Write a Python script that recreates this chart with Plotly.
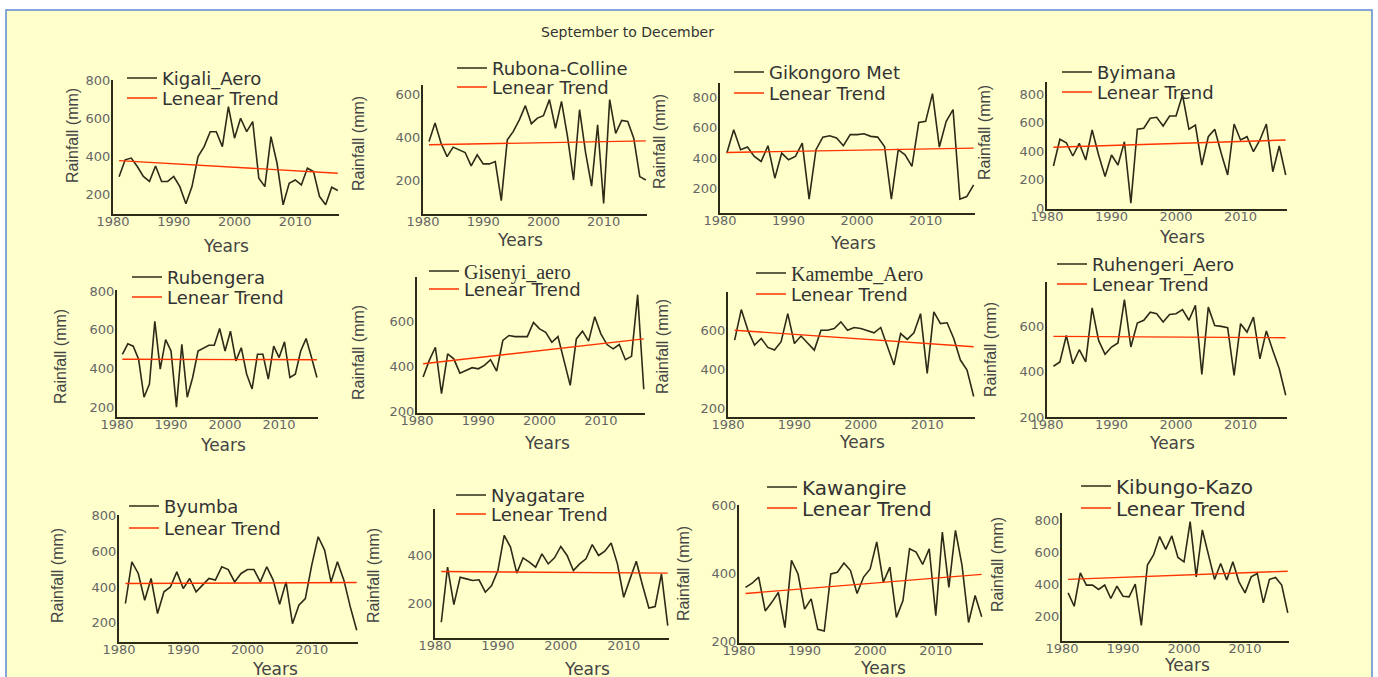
import plotly.graph_objects as go

# ---------------- data ----------------
years = list(range(1981, 2018))
stations = ["Kigali_Aero", "Rubona-Colline", "Gikongoro Met", "Byimana",
            "Rubengera", "Gisenyi_aero", "Kamembe_Aero", "Ruhengeri_Aero",
            "Byumba", "Nyagatare", "Kawangire", "Kibungo-Kazo"]

kigali = [295, 383, 392, 348, 296, 270, 351, 270, 270, 296, 243, 153, 243, 400, 452, 530, 530, 452, 661, 496,
          600, 530, 583, 287, 243, 504, 365, 148, 261, 278, 252, 339, 322, 191, 148, 240, 223]
rubona = [382, 468, 374, 312, 356, 343, 331, 269, 320, 278, 278, 289, 107, 390, 429, 483, 549, 465, 491, 502,
          577, 444, 569, 405, 203, 530, 330, 175, 460, 94, 577, 420, 480, 475, 398, 219, 203]
gikongoro = [434, 586, 456, 473, 412, 379, 482, 270, 434, 390, 412, 499, 133, 456, 538, 547, 532, 482, 554, 554,
             560, 543, 538, 477, 133, 456, 423, 347, 634, 641, 822, 473, 641, 717, 133, 150, 227]
byimana = [296, 483, 459, 366, 455, 338, 548, 373, 222, 373, 303, 466, 35, 553, 560, 630, 637, 576, 646, 646,
           793, 553, 583, 303, 501, 553, 385, 233, 590, 478, 501, 396, 478, 590, 256, 436, 233]
rubengera = [473, 527, 515, 447, 251, 319, 643, 396, 549, 490, 200, 524, 251, 353, 490, 507, 520, 520, 606, 490,
             592, 439, 507, 370, 294, 473, 473, 345, 515, 456, 537, 353, 370, 490, 554, 456, 353]
gisenyi = [354, 427, 485, 280, 456, 434, 371, 383, 395, 390, 405, 430, 380, 515, 537, 532, 532, 532, 595, 566,
           551, 507, 532, 420, 317, 522, 556, 512, 620, 544, 497, 478, 497, 430, 445, 717, 300]
kamembe = [548, 705, 599, 523, 557, 511, 497, 540, 684, 531, 569, 531, 497, 599, 599, 608, 642, 599, 613, 608,
           596, 586, 613, 514, 421, 582, 552, 586, 684, 378, 693, 633, 637, 557, 446, 395, 259]
ruhengeri = [424, 443, 560, 435, 497, 443, 682, 538, 477, 509, 527, 718, 509, 615, 627, 663, 656, 619, 653, 656,
             674, 627, 693, 388, 685, 604, 600, 594, 384, 612, 575, 641, 457, 580, 494, 413, 296]
byumba = [308, 540, 475, 326, 447, 252, 373, 400, 484, 391, 447, 373, 410, 447, 438, 512, 497, 428, 475, 497,
          497, 428, 512, 438, 304, 428, 196, 298, 335, 521, 679, 605, 428, 540, 438, 289, 159]
nyagatare = [120, 351, 194, 309, 302, 295, 298, 246, 274, 337, 484, 435, 326, 390, 372, 351, 407, 365, 390, 438,
             400, 337, 365, 386, 446, 400, 418, 452, 365, 225, 302, 376, 274, 180, 186, 323, 106]
kawangire = [359, 371, 389, 290, 315, 344, 241, 438, 398, 295, 325, 236, 231, 398, 403, 430, 408, 341, 389, 413,
             492, 374, 418, 271, 320, 472, 462, 426, 472, 276, 521, 359, 526, 423, 256, 335, 273]
kibungo = [349, 266, 473, 397, 397, 370, 397, 314, 390, 328, 324, 403, 148, 521, 583, 697, 618, 701, 568, 541,
           790, 448, 738, 577, 432, 531, 428, 541, 417, 349, 448, 469, 287, 432, 444, 397, 225]

trend_start = [379, 367, 438, 427, 447, 412, 599, 556, 419, 333, 341, 432]
trend_end = [313, 385, 466, 478, 445, 522, 514, 550, 425, 326, 397, 483]
trend_years = [1981, 2017]
trend_label = "Lenear Trend"

series = [kigali, rubona, gikongoro, byimana, rubengera, gisenyi,
          kamembe, ruhengeri, byumba, nyagatare, kawangire, kibungo]

# ---------------- layout geometry (pixels) ----------------
W, H = 1378, 677
def fx(px): return px / W
def fy(py): return 1 - py / H

# x0, x1, ytop, ybot, yrange, legend(line_start, row1, row2), ytitle(x, y), years(x, y), legend font size
geom = [
    (113, 339, 80, 214, [100, 800], (128, 79, 99), (72, 136), (226, 246), 18),
    (423, 647, 85, 214, [45, 645], (458, 69, 88), (358, 144), (520, 240), 18),
    (720, 975, 83, 213, [43, 891], (735, 73, 94), (659, 142), (853, 243), 18),
    (1047, 1287, 82, 209, [-5, 884], (1063, 73, 93), (985, 133), (1182, 237), 18),
    (117, 318, 290, 417, [149, 805], (133, 278, 298), (60, 357), (223, 445), 18),
    (417, 645, 277, 413, [195, 795], (430, 272, 290), (358, 353), (547, 443), 18),
    (728, 975, 292, 417, [154, 795], (757, 274, 295), (662, 347), (862, 442), 18),
    (1047, 1287, 282, 417, [200, 796], (1058, 265, 285), (990, 350), (1172, 443), 18),
    (119, 358, 515, 642, [94, 800], (130, 507, 529), (57, 576), (275, 669), 18),
    (435, 669, 509, 638, [54, 595], (457, 496, 515), (373, 576), (587, 669), 18),
    (739, 983, 505, 643, [196, 600], (768, 488, 509), (683, 574), (883, 668), 20),
    (1062, 1289, 513, 641, [51, 843], (1082, 487, 509), (997, 565), (1187, 665), 20),
]
serif_names = {"Gisenyi_aero", "Kamembe_Aero"}

DATA_COLOR = "#2b2b17"
TREND_COLOR = "#ff3300"
AXIS_COLOR = "#2b2b17"
TICK_COLOR = "#666666"
TEXT_COLOR = "#444444"
SANS = "DejaVu Sans"

fig = go.Figure()
layout = dict(
    template="none",
    width=W, height=H, autosize=False,
    margin=dict(l=0, r=0, t=0, b=0, pad=0),
    paper_bgcolor="white",
    plot_bgcolor="rgba(0,0,0,0)",
    showlegend=True,
    annotations=[],
    shapes=[dict(type="rect", xref="paper", yref="paper",
                 x0=fx(6), x1=fx(1372), y0=fy(680), y1=fy(10),
                 fillcolor="#ffffcc", line=dict(color="#5b8bd0", width=1.5),
                 layer="below")],
)


def legend_box(line_start, row, size, family):
    return dict(x=fx(line_start - 6), y=fy(row - (size * 1.3 + 3) / 2 - 6),
                xanchor="left", yanchor="top", bgcolor="rgba(0,0,0,0)",
                borderwidth=0, tracegroupgap=0, itemwidth=30,
                font=dict(family=family, size=size, color="#333333"))


for i, (name, vals) in enumerate(zip(stations, series)):
    n = i + 1
    x0, x1, yt, yb, yr, (ls, r1, r2), (tx, ty), (yx, yy), lfs = geom[i]
    xa = "x" if n == 1 else f"x{n}"
    ya = "y" if n == 1 else f"y{n}"
    lg1 = "legend" if n == 1 else f"legend{2 * n - 1}"
    lg2 = f"legend{2 * n}"
    xkey = "xaxis" if n == 1 else f"xaxis{n}"
    ykey = "yaxis" if n == 1 else f"yaxis{n}"

    fig.add_trace(go.Scatter(x=years, y=vals, mode="lines", name=name,
                             line=dict(color=DATA_COLOR, width=1.6),
                             xaxis=xa, yaxis=ya, legend=lg1))
    fig.add_trace(go.Scatter(x=trend_years, y=[trend_start[i], trend_end[i]], mode="lines",
                             name=trend_label,
                             line=dict(color=TREND_COLOR, width=1.4),
                             xaxis=xa, yaxis=ya, legend=lg2))

    common_tick = dict(family=SANS, size=13, color=TICK_COLOR)
    layout[xkey] = dict(domain=[fx(x0), fx(x1)], anchor=ya, range=[1980, 2017.2],
                        tickmode="array", tickvals=[1980, 1990, 2000, 2010],
                        showline=True, linecolor=AXIS_COLOR, linewidth=2,
                        showgrid=False, zeroline=False, ticks="", automargin=False,
                        ticklabelstandoff=-6, tickfont=common_tick)
    layout[ykey] = dict(domain=[fy(yb), fy(yt)], anchor=xa, range=yr,
                        tick0=0, dtick=200,
                        showline=True, linecolor=AXIS_COLOR, linewidth=2,
                        showgrid=False, zeroline=False, ticks="", automargin=False,
                        ticklabelstandoff=-2, tickfont=common_tick)
    if name in serif_names:
        layout[lg1] = legend_box(ls, r1, 20, "Liberation Serif")
    else:
        layout[lg1] = legend_box(ls, r1, lfs, SANS)
    layout[lg2] = legend_box(ls, r2, lfs, SANS)

    layout["annotations"].append(dict(text="Rainfall (mm)", x=fx(tx), y=fy(ty), xref="paper", yref="paper",
                                      textangle=-90, showarrow=False, xanchor="center", yanchor="middle",
                                      font=dict(family="Liberation Sans", size=16, color=TEXT_COLOR)))
    layout["annotations"].append(dict(text="Years", x=fx(yx), y=fy(yy), xref="paper", yref="paper",
                                      showarrow=False, xanchor="center", yanchor="middle",
                                      font=dict(family=SANS, size=17, color=TEXT_COLOR)))

layout["annotations"].append(dict(text="September to December", x=fx(627), y=fy(32), xref="paper", yref="paper",
                                  showarrow=False, xanchor="center", yanchor="middle",
                                  font=dict(family=SANS, size=14, color="#333333")))

fig.update_layout(**layout)
fig.write_html("out.html", config={"displayModeBar": False},
               post_script="document.body.style.margin='0px';document.body.style.overflow='hidden';")
